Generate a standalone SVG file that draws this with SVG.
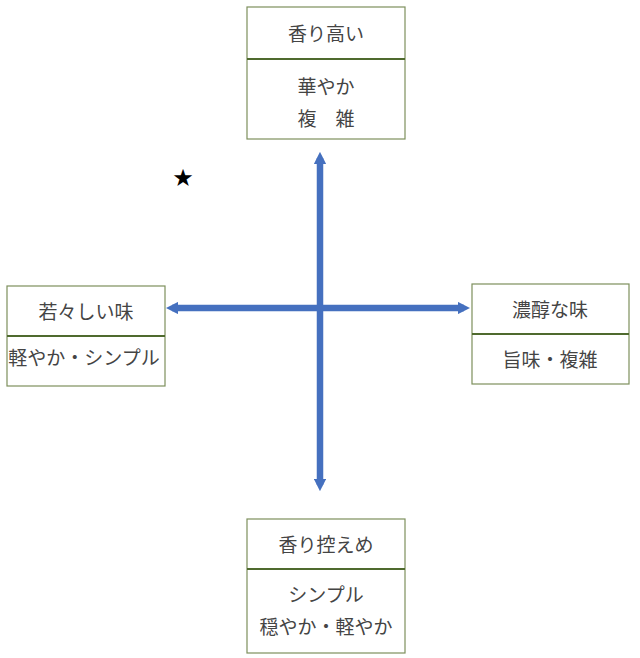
<svg xmlns="http://www.w3.org/2000/svg" width="640" height="658" viewBox="0 0 640 658">
<defs>
<style>
.box{fill:#ffffff;stroke:#7d8f5c;stroke-width:1.2}
.div{stroke:#4f6a2e;stroke-width:2}
.t{font-family:"Noto Sans CJK JP","Noto Sans CJK SC",sans-serif;font-size:19px;font-weight:400;fill:#444444;text-anchor:middle;dominant-baseline:central}
.ax{stroke:#4570bf;stroke-width:6.5;fill:none}
</style>
<marker id="ah" viewBox="0 0 10 10" refX="5" refY="5" markerWidth="1.9" markerHeight="1.9" orient="auto-start-reverse" markerUnits="strokeWidth">
<path d="M0,0 L10,5 L0,10 z" fill="#4570bf"/>
</marker>
</defs>
<rect width="640" height="658" fill="#ffffff"/>
<g id="connectors">
<line class="ax" x1="320" y1="158" x2="320" y2="485" marker-start="url(#ah)" marker-end="url(#ah)"/>
<line class="ax" x1="172" y1="308" x2="464" y2="308" marker-start="url(#ah)" marker-end="url(#ah)"/>
</g>
<g id="top">
<rect class="box" x="247" y="7" width="158" height="132"/>
<line class="div" x1="247" y1="59" x2="405" y2="59"/>
<text class="t" x="326" y="32">香り高い</text>
<text class="t" x="326" y="85">華やか</text>
<text class="t" x="326" y="117" xml:space="preserve">複　雑</text>
</g>
<g id="left">
<rect class="box" x="7" y="286" width="158" height="100"/>
<line class="div" x1="7" y1="336" x2="165" y2="336"/>
<text class="t" x="86" y="310">若々しい味</text>
<text class="t" x="84" y="356">軽やか・シンプル</text>
</g>
<g id="right">
<rect class="box" x="472" y="284" width="157" height="100"/>
<line class="div" x1="472" y1="334" x2="629" y2="334"/>
<text class="t" x="550" y="308">濃醇な味</text>
<text class="t" x="550" y="358">旨味・複雑</text>
</g>
<g id="bottom">
<rect class="box" x="247" y="519" width="158" height="134"/>
<line class="div" x1="247" y1="569" x2="405" y2="569"/>
<text class="t" x="326" y="543">香り控えめ</text>
<text class="t" x="326" y="593">シンプル</text>
<text class="t" x="326" y="625">穏やか・軽やか</text>
</g>
<g id="star">
<text x="183" y="178" font-family="'DejaVu Sans',sans-serif" font-size="24" fill="#000000" text-anchor="middle" dominant-baseline="central">★</text>
</g>
</svg>
